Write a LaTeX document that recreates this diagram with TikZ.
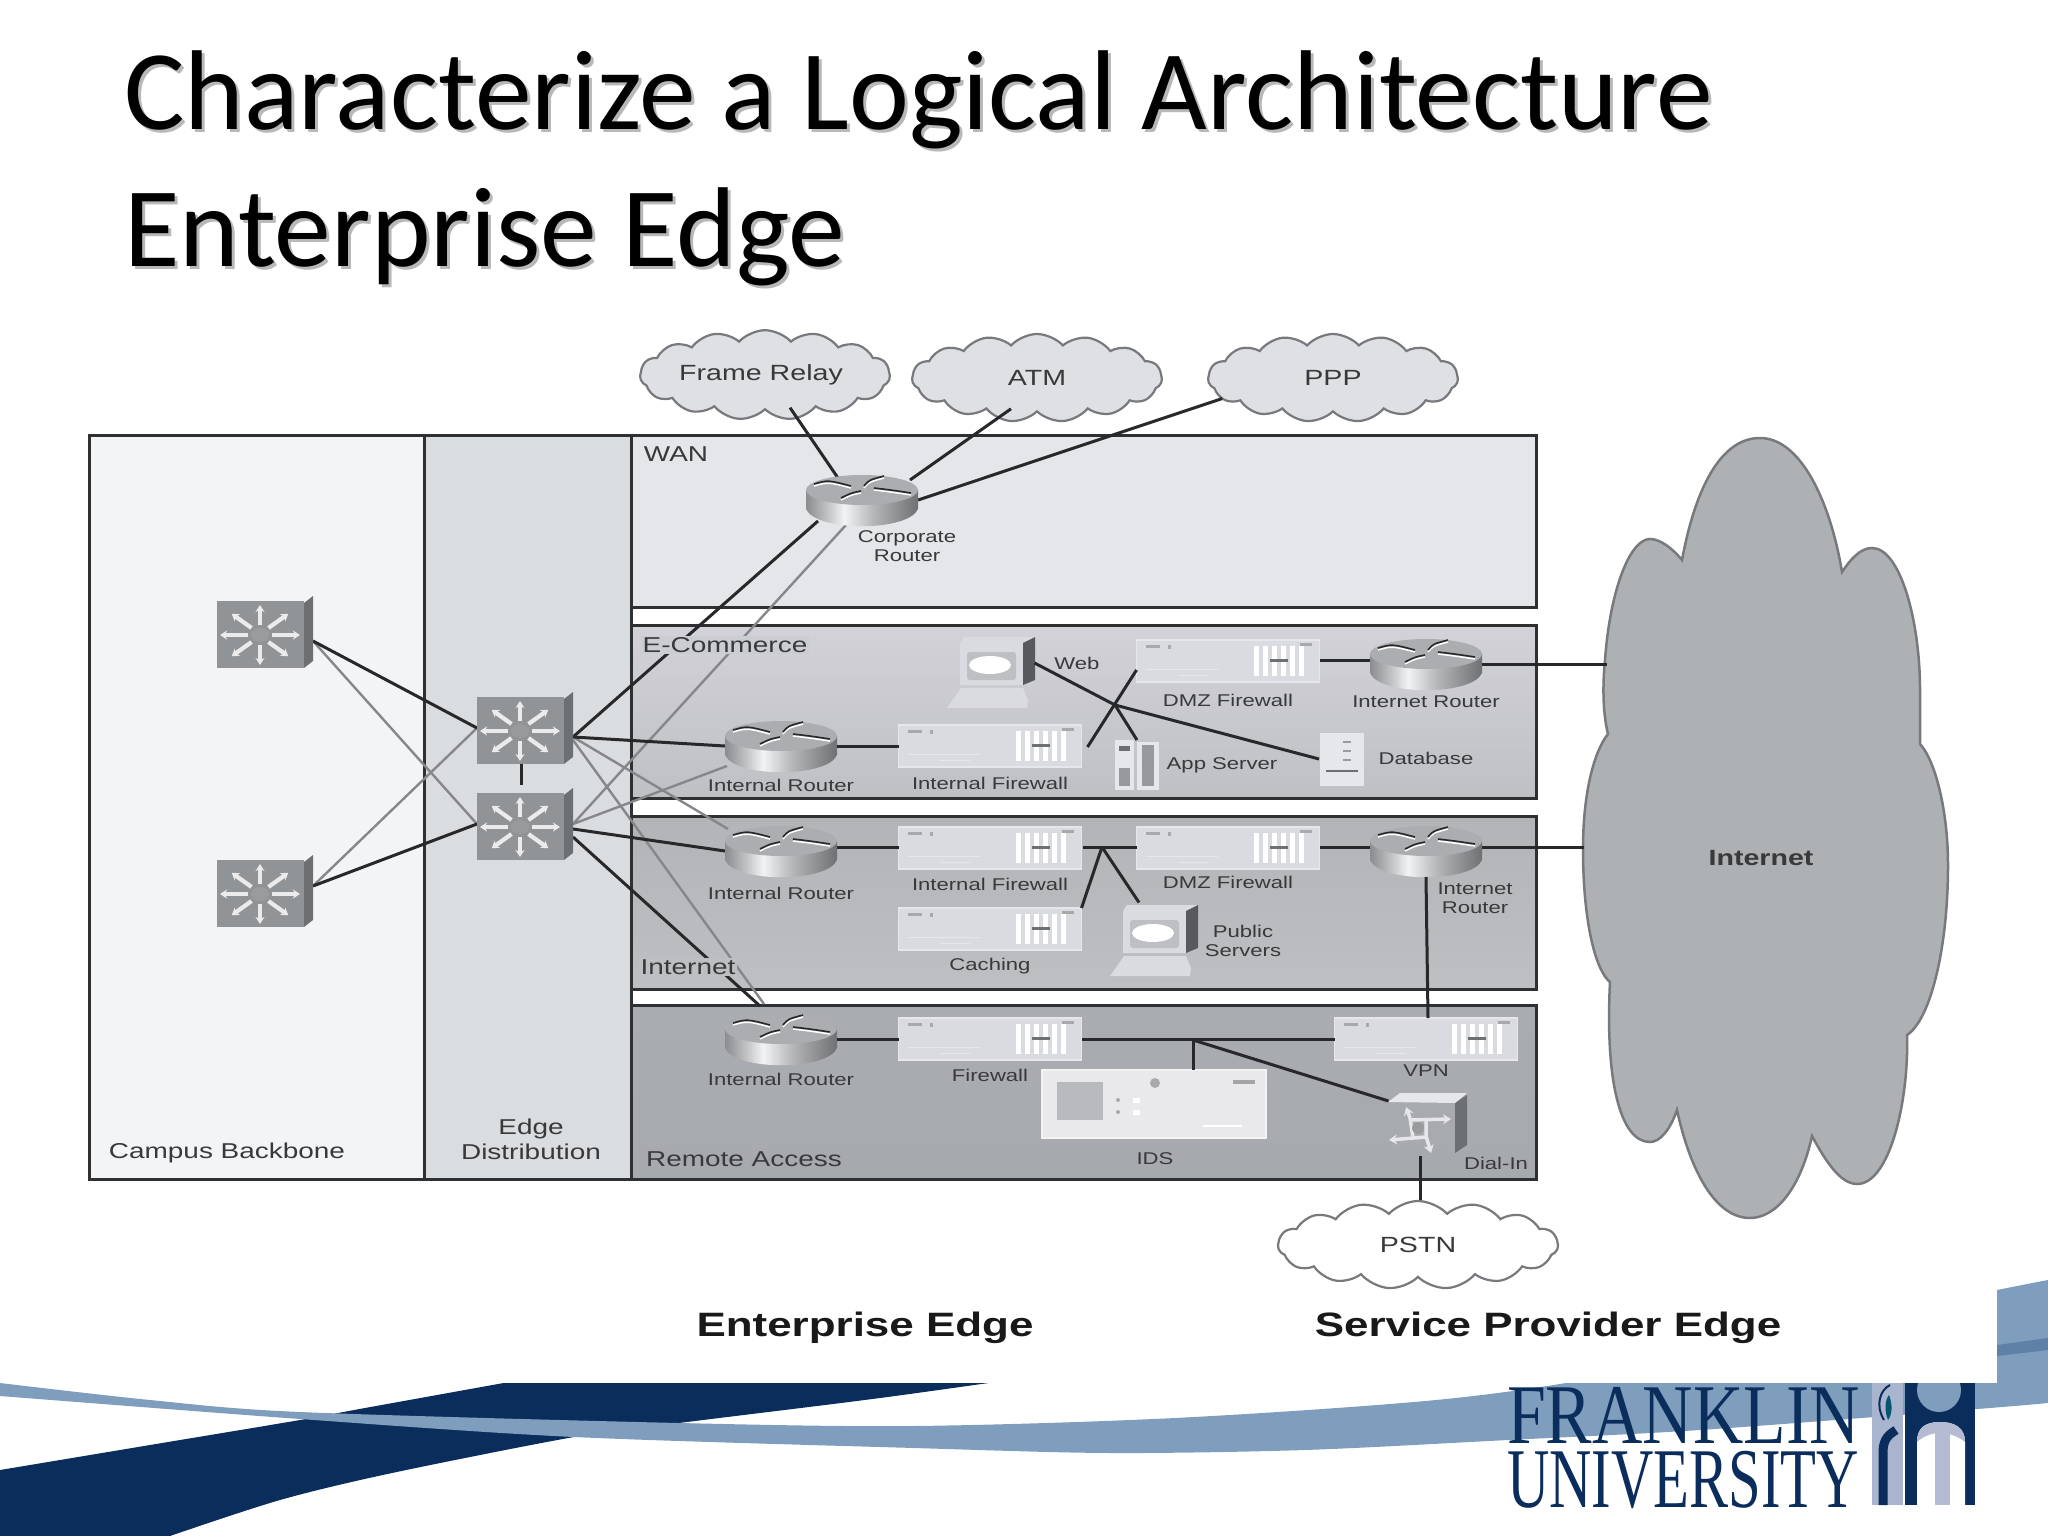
\documentclass[tikz,border=0pt]{standalone}
\usepackage{fontspec}
\usetikzlibrary{calc,shapes.symbols,arrows.meta}
\newfontfamily\lab[FakeStretch=1.3]{Liberation Sans}
\newfontfamily\ttl{Carlito}
\newfontfamily\logoa[FakeStretch=0.82]{Liberation Serif}
\newfontfamily\logob[FakeStretch=0.69]{Liberation Serif}
\definecolor{navy}{HTML}{0A2D5C}
\definecolor{band}{HTML}{7F9DBD}
\definecolor{bandd}{HTML}{5F81A8}
\definecolor{logol}{HTML}{A9B5CE}
\definecolor{logom}{HTML}{B5BBD2}
\definecolor{labc}{HTML}{37393B}
\definecolor{edge}{HTML}{2E3032}
\definecolor{darkl}{HTML}{26282A}
\definecolor{grayl}{HTML}{85878A}
\definecolor{campus}{HTML}{F3F4F5}
\definecolor{distc}{HTML}{D9DDE0}
\definecolor{wanc}{HTML}{E5E6E9}
\definecolor{ecomt}{HTML}{D2D2D8}
\definecolor{ecomb}{HTML}{BFC0C4}
\definecolor{inett}{HTML}{B2B4B7}
\definecolor{inetb}{HTML}{BDBFC2}
\definecolor{remt}{HTML}{A9ACB0}
\definecolor{remb}{HTML}{A6A9AD}
\definecolor{cldc}{HTML}{DFE0E3}
\definecolor{cldl}{HTML}{77797C}
\definecolor{fwc}{HTML}{DADBE0}
\definecolor{fwl}{HTML}{E6E7EA}
\definecolor{swf}{HTML}{919497}
\definecolor{sws}{HTML}{6D7073}
\definecolor{inetc}{HTML}{AEB1B4}
\definecolor{rt1}{HTML}{8A8C8F}
\definecolor{rt2}{HTML}{C4C6C8}
\definecolor{rt3}{HTML}{F2F3F4}
\definecolor{rt4}{HTML}{B4B6B8}
\definecolor{rt5}{HTML}{6E7073}
\definecolor{rttop}{HTML}{ABADB0}
\pgfdeclarehorizontalshading{rtbody}{100bp}{color(0bp)=(rt1); color(25bp)=(rt1); color(35bp)=(rt2); color(42bp)=(rt3); color(55bp)=(rt4); color(75bp)=(rt5); color(100bp)=(rt5)}
\tikzset{
  dev/.style={rectangle,inner sep=0pt,outer sep=0pt},
  lbl/.style={font=\lab\fontsize{17}{19.5}\selectfont,text=labc,inner sep=0pt,align=center},
  lblb/.style={font=\lab\fontsize{21.5}{25}\selectfont,text=labc,inner sep=1.5pt,align=center},
  edgetxt/.style={font=\lab\bfseries\fontsize{33.8}{38}\selectfont,text=black!90,inner sep=0pt},
  smallcloud/.style={cloud,cloud puffs=15,cloud puff arc=95,aspect=3.1,draw=cldl,line width=2.2pt,fill=cldc,
     minimum width=#1,minimum height=88pt,inner sep=0pt,font=\lab\fontsize{22}{26}\selectfont,text=labc},
  panel/.style={draw=edge,line width=3pt},
  linkd/.style={draw=darkl,line width=3pt},
  linkg/.style={draw=grayl,line width=2.4pt},
  titletxt/.style={font=\ttl\fontsize{113.5}{137}\selectfont,inner sep=0pt,anchor=base west},
}
\newcommand{\swdev}[3]{%
  \node[dev,minimum width=96pt,minimum height=72pt] (#1) at (#2,#3) {};
  \begin{scope}[shift={(#2,#3)}]
    \fill[sws] (39,-29) -- (48,-36) -- (48,29) -- (39,36) -- cycle;
    \fill[swf] (-48,-31) rectangle (39,36);
    \foreach \a in {0,45,...,315}{
      \draw[white!92!black,line width=4.2pt,-{Stealth[length=7pt,width=9pt]}]
        ({-5+12*cos(\a)},{3+10*sin(\a)}) -- ({-5+40*cos(\a)},{3+30*sin(\a)});
    }
    \fill[sws!70!white] (-5,3) ellipse [x radius=9pt,y radius=7pt];
  \end{scope}}
\newcommand{\rtdev}[3]{%
  \node[dev,minimum width=112pt,minimum height=52pt] (#1) at (#2,#3) {};
  \begin{scope}[shift={(#2,#3)}]
    \shade[shading=rtbody] (-56,-10) -- (-56,9) .. controls (-46,32) and (46,32) .. (56,9) -- (56,-10) -- cycle;
    \fill[rttop] (0,-10) ellipse [x radius=56pt,y radius=15pt];
    \draw[white,line width=1.5pt] (-48,-14) .. controls (-34,-18) .. (-11,-12) (2,-12) .. controls (7,-18) .. (22,-22)
       (12,-10) .. controls (29,-8) .. (49,-5) (-21,0) .. controls (-11,-5) .. (-1,-7);
    \draw[darkl,line width=1.6pt] (-48,-16) .. controls (-34,-20) .. (-11,-14) (2,-14) .. controls (7,-20) .. (22,-24)
       (12,-12) .. controls (29,-10) .. (49,-7) (-21,-2) .. controls (-11,-7) .. (-1,-9);
  \end{scope}}
\newcommand{\fwdev}[3]{%
  \node[dev,minimum width=183pt,minimum height=42pt] (#1) at (#2,#3) {};
  \begin{scope}[shift={(#2,#3)}]
    \draw[fill=fwc,draw=fwl,line width=1.5pt] (-91.5,-21) rectangle (91.5,21);
    \fill[sws!60!white] (-82,-16) rectangle (-68,-13);
    \fill[sws!60!white] (-60,-16) rectangle (-57,-12);
    \draw[fwl,line width=1pt] (-82,8) -- (-10,8) (-50,14) -- (-20,14);
    \foreach \dx in {26,35,44,53,62,71}{\fill[white] (\dx,-15) rectangle +(5,30);}
    \fill[sws] (42,-2) rectangle (60,1);
    \fill[sws!60!white] (72,-18) rectangle (84,-15);
  \end{scope}}
\newcommand{\pcdev}[3]{%
  \node[dev,minimum width=87pt,minimum height=71pt] (#1) at (#2,#3) {};
  \begin{scope}[shift={(#2,#3)}]
    \fill[fwc] (-44,36) -- (-30,16) -- (32,16) -- (37,28) -- (36,36) -- cycle;
    \fill[fwc] (-31,-29) -- (-27,-35) -- (44,-35) -- (32,-29) -- (32,13) -- (-31,13) -- cycle;
    \fill[sws!80!black] (32,-29) -- (44,-35) -- (44,8) -- (32,13) -- cycle;
    \fill[rounded corners=3pt,fill=inetb] (-24,-20) rectangle (25,8);
    \fill[white] (-1,-7) ellipse [x radius=21pt,y radius=9pt];
  \end{scope}}
\begin{document}
\begin{tikzpicture}[x=1pt,y=-1pt]
\useasboundingbox (0,0) rectangle (2048,1536);
% --- slide background
\fill[navy] plot[smooth] coordinates {(548,1375) (365,1408) (300,1420) (150,1445) (0,1470)}
  -- (0,1536) -- (170,1536) -- plot[smooth] coordinates {(170,1536) (280,1500) (392,1473) (574,1437) (679,1423) (880,1398) (1066,1372)} -- cycle;
\fill[band] plot[smooth] coordinates {(0,1383) (150,1400) (300,1412) (679,1423) (914,1426) (1175,1418) (1436,1400) (1605,1376) (1800,1330) (1997,1290) (2048,1280)}
  -- plot[smooth] coordinates {(2048,1403) (1977,1409) (1700,1430) (1508,1440) (1305,1450) (1110,1453) (914,1448) (574,1437) (300,1419) (0,1396)} -- cycle;
\fill[bandd] (1997,1345) -- (2048,1338) -- (2048,1350) -- (1997,1356) -- cycle;
% --- logo emblem
\fill[logol] (1872,1375) rectangle (1903,1505);
\draw[navy,line width=9pt] (1883,1505) -- (1883,1452) .. controls (1883,1438) and (1890,1434) .. (1896,1430);
\draw[navy,line width=2pt] (1884,1420) .. controls (1875,1405) and (1880,1390) .. (1890,1385);
\fill[navy!50!teal] (1889,1395) .. controls (1893,1405) and (1892,1415) .. (1888,1420) .. controls (1884,1410) and (1885,1400) .. (1889,1395) -- cycle;
\fill[navy] (1905,1375) rectangle (1975,1505);
\fill[white] (1917,1505) -- (1917,1442) .. controls (1917,1428) and (1925,1422) .. (1940,1422) .. controls (1955,1422) and (1965,1428) .. (1965,1442) -- (1965,1505) -- cycle;
\fill[logom] (1917,1442) .. controls (1917,1428) and (1925,1422) .. (1940,1422) .. controls (1955,1422) and (1965,1428) .. (1965,1442) .. controls (1950,1430) and (1930,1430) .. (1917,1442) -- cycle;
\fill[logom] (1935,1430) rectangle (1950,1505);
\fill[band] (1939,1390) circle [radius=22pt];
\fill[white] (0,0) rectangle (1997,1383);
\node[inner sep=0pt,anchor=base west,text=navy,font=\logoa\fontsize{85}{90}\selectfont] (logoA) at (1507,1443) {FRANKLIN};
\node[inner sep=0pt,anchor=base west,text=navy,font=\logob\fontsize{85}{90}\selectfont] (logoB) at (1507,1507) {UNIVERSITY};
% --- title
\node[titletxt,text=black!28] (titleAs) at (127,133) {Characterize a Logical Architecture};
\node[titletxt,text=black!28] (titleBs) at (127,269) {Enterprise Edge};
\node[titletxt,text=black] (titleA) at (124,130) {Characterize a Logical Architecture};
\node[titletxt,text=black] (titleB) at (124,266) {Enterprise Edge};
% --- panels
\fill[campus] (89,435) rectangle (424,1179);
\fill[distc] (424,435) rectangle (631,1179);
\draw[panel] (89,435) rectangle (631,1179);
\draw[panel] (424,435) -- (424,1179);
\draw[panel,fill=wanc] (631,435) rectangle (1536,607);
\draw[panel,top color=ecomt,bottom color=ecomb] (631,625) rectangle (1536,798);
\draw[panel,top color=inett,bottom color=inetb] (631,816) rectangle (1536,989);
\draw[panel,top color=remt,bottom color=remb] (631,1005) rectangle (1536,1179);
% --- Internet cloud
\draw[fill=inetc,draw=cldl,line width=2.5pt] (1682,560) .. controls (1695,490) and (1720,438) .. (1760,438) .. controls (1800,438) and (1830,500) .. (1842,572)
  .. controls (1850,560) and (1860,548) .. (1872,548) .. controls (1900,548) and (1920,620) .. (1920,690) .. controls (1920,710) and (1920,730) .. (1920,744)
  .. controls (1935,760) and (1948,810) .. (1948,865) .. controls (1948,950) and (1930,1020) .. (1907,1035)
  .. controls (1909,1100) and (1890,1184) .. (1857,1184) .. controls (1840,1184) and (1825,1160) .. (1812,1136)
  .. controls (1800,1190) and (1775,1218) .. (1750,1218) .. controls (1715,1218) and (1690,1170) .. (1677,1110)
  .. controls (1670,1130) and (1660,1142) .. (1650,1142) .. controls (1620,1142) and (1605,1080) .. (1610,982)
  .. controls (1595,970) and (1583,920) .. (1583,849) .. controls (1583,790) and (1595,750) .. (1608,734)
  .. controls (1602,710) and (1603,680) .. (1605,660) .. controls (1610,590) and (1630,539) .. (1650,539) .. controls (1660,539) and (1672,548) .. (1682,560) -- cycle;
\node[font=\lab\bfseries\fontsize{22}{26}\selectfont,text=labc,inner sep=0pt] (internet) at (1761,858) {Internet};
\coordinate (inetA) at (1607,664);
\coordinate (inetB) at (1584,847);
% --- small clouds
\node[smallcloud=250pt] (fr) at (765,375) {\hspace{-8pt}Frame Relay};
\node[smallcloud=250pt] (atm) at (1037,378) {ATM};
\node[smallcloud=250pt] (ppp) at (1333,378) {PPP};
\node[smallcloud=280pt,fill=white] (pstn) at (1418,1245) {PSTN};
% --- device anchors (drawn later on top of the links)
\node[dev,minimum width=96pt,minimum height=72pt] (coreAp) at (265,632) {};
\node[dev,minimum width=96pt,minimum height=72pt] (coreBp) at (265,891) {};
\node[dev,minimum width=96pt,minimum height=72pt] (d1p) at (525,728) {};
\node[dev,minimum width=96pt,minimum height=72pt] (d2p) at (525,824) {};
\node[dev,minimum width=112pt,minimum height=52pt] (corpp) at (862,500) {};
\node[dev,minimum width=112pt,minimum height=52pt] (r1p) at (781,746) {};
\node[dev,minimum width=112pt,minimum height=52pt] (r2p) at (781,851) {};
\node[dev,minimum width=112pt,minimum height=52pt] (r3p) at (781,1039) {};
\node[dev,minimum width=112pt,minimum height=52pt] (i1p) at (1426,664) {};
\node[dev,minimum width=112pt,minimum height=52pt] (i2p) at (1426,849) {};
% --- backbone links
\draw[linkg] ($(coreAp.east)+(0,9)$) -- (d2p.west);
\draw[linkg] ($(coreBp.east)+(0,-5)$) -- (d1p.west);
\draw[linkd] ($(coreAp.east)+(0,9)$) -- (d1p.west);
\draw[linkd] ($(coreBp.east)+(0,-5)$) -- (d2p.west);
\draw[linkd] ($(d1p.south)+(-4,0)$) -- ($(d2p.north)+(-4,-3)$);
\draw[linkg] (d2p.east) -- ($(corpp.south west)+(40,-1)$);
\draw[linkd] ($(d1p.east)+(0,9)$) -- ($(corpp.south west)+(12,-5)$);
\draw[linkg] (d2p.east) -- ($(r1p.south west)+(2,-6)$);
\draw[linkg] ($(d1p.east)+(0,9)$) -- ($(r2p.north west)+(3,4)$);
\draw[linkg] ($(d1p.east)+(0,12)$) -- ($(r3p.north west)+(39,-9)$);
\draw[linkd] ($(d1p.east)+(0,9)$) -- (r1p.west);
\draw[linkd] ($(d2p.east)+(0,5)$) -- (r2p.west);
\draw[linkd] ($(d2p.east)+(0,13)$) -- ($(r3p.north west)+(35,-7)$);
% --- WAN links
\draw[linkd] ($(fr.south)+(25,-3)$) -- ($(corpp.north)+(-24,4)$);
\draw[linkd] ($(atm.south)+(-26,-4)$) -- ($(corpp.north east)+(-8,6)$);
\draw[linkd] ($(ppp.south west)+(-24,-10)$) -- (corpp.east);
% --- panel labels over the links
\node[lblb] (wanl) at (676,454) {WAN};
\node[lblb,fill=ecomt!70!ecomb] (ecoml) at (725,645) {E-Commerce};
\node[lblb,fill=inetb] (inetl) at (688,967) {Internet};
\node[lblb] (raccl) at (744,1159) {Remote Access};
\node[lblb] (campl) at (227,1153) {Campus Backbone};
\node[lblb] (edgel) at (531,1139) {Edge\\Distribution};
% --- devices
\swdev{coreA}{265}{632}
\swdev{coreB}{265}{891}
\swdev{d1}{525}{728}
\swdev{d2}{525}{824}
\rtdev{corp}{862}{500}
\rtdev{r1}{781}{746}
\rtdev{r2}{781}{851}
\rtdev{r3}{781}{1039}
\rtdev{i1}{1426}{664}
\rtdev{i2}{1426}{851}
\fwdev{fwdmzA}{1228}{661}
\fwdev{fwintA}{990}{746}
\fwdev{fwintB}{990}{848}
\fwdev{fwdmzB}{1228}{848}
\fwdev{fwcach}{990}{929}
\fwdev{fwrem}{990}{1039}
\fwdev{vpn}{1426}{1039}
\pcdev{web}{991}{672}
\pcdev{pub}{1154}{940}
% app server
\node[dev,minimum width=44pt,minimum height=50pt] (app) at (1137,765) {};
\fill[fwl] (1115,740) rectangle (1134,790);
\fill[sws] (1119,746) rectangle (1130,751);
\fill[fwc!70!black] (1119,768) rectangle (1130,786);
\fill[fwl] (1137,742) rectangle (1159,790);
\fill[fwc!70!black] (1142,745) rectangle (1154,786);
% database
\node[dev,minimum width=44pt,minimum height=53pt] (db) at (1342,760) {};
\fill[fwl] (1320,733) rectangle (1364,786);
\foreach \yy in {741,750,759}{\fill[sws!70!white] (1343,\yy) rectangle +(8,2);}
\fill[sws] (1326,770) rectangle (1358,772);
% IDS
\node[dev,minimum width=224pt,minimum height=68pt] (ids) at (1154,1104) {};
\draw[fill=fwc!60!white,draw=fwl!50!white,line width=2pt] (1042,1070) rectangle (1266,1138);
\fill[fwc!85!black] (1057,1082) rectangle (1103,1120);
\fill[sws!60!white] (1155,1083) circle [radius=5pt];
\fill[sws!60!white] (1118,1100) circle [radius=2pt] (1118,1112) circle [radius=2pt];
\fill[white] (1133,1098) rectangle (1140,1103) (1133,1110) rectangle (1140,1115);
\fill[fwc!75!black] (1233,1080) rectangle (1255,1084);
\fill[white] (1203,1125) rectangle (1242,1127);
% dial-in
\node[dev,minimum width=79pt,minimum height=60pt] (dial) at (1428,1124) {};
\fill[sws] (1455,1103) -- (1467,1095) -- (1467,1145) -- (1455,1153) -- cycle;
\fill[fwl] (1388,1102) -- (1400,1093) -- (1467,1093) -- (1455,1103) -- cycle;
\draw[fwl,line width=3.5pt,-{Stealth[length=8pt,width=10pt]}] (1410,1118) -- (1406,1107);
\draw[fwl,line width=3.5pt,-{Stealth[length=8pt,width=10pt]}] (1410,1120) -- (1451,1119);
\draw[fwl,line width=3.5pt,-{Stealth[length=8pt,width=10pt]}] (1426,1137) -- (1389,1140);
\draw[fwl,line width=3.5pt,-{Stealth[length=8pt,width=10pt]}] (1426,1136) -- (1431,1153);
\draw[fwl,line width=3.5pt] (1410,1118) -- (1413,1138) (1426,1120) -- (1426,1136);
\fill[sws!70!white] (1418,1128) circle [radius=6pt];
% --- device-level links
\coordinate (hubC) at (1115,705);
\coordinate (hubB) at (1102,847);
\coordinate (hubR) at (1193,1040);
\draw[linkd] (r1.east) -- (fwintA.west);
\draw[linkd] ($(fwdmzA.east)+(0,-1)$) -- ($(i1.west)+(0,-4)$);
\draw[linkd] (i1.east) -- (inetA);
\draw[linkd] ($(fwintA.east)+(6,1)$) -- ($(fwdmzA.west)+(0,9)$);
\draw[linkd] ($(web.east)+(0,-9)$) -- (hubC) -- ($(db.west)+(-1,-1)$);
\draw[linkd] (hubC) -- (app.north);
\draw[linkd] ($(r2.east)+(0,-4)$) -- ($(fwintB.west)+(0,-1)$);
\draw[linkd] ($(fwintB.east)+(1,-1)$) -- ($(fwdmzB.west)+(0,-1)$);
\draw[linkd] ($(fwdmzB.east)+(0,-1)$) -- ($(i2.west)+(0,-4)$);
\draw[linkd] ($(i2.east)+(0,-4)$) -- (inetB);
\draw[linkd] (hubB) -- (fwcach.north east);
\draw[linkd] (hubB) -- ($(pub.north)+(-15,-2)$);
\draw[linkd] (i2.south) -- ($(vpn.north)+(2,0)$);
\draw[linkd] (r3.east) -- (fwrem.west);
\draw[linkd] (fwrem.east) -- (vpn.west);
\draw[linkd] (hubR) -- (ids.north -| hubR);
\draw[linkd] (hubR) -- ($(dial.north west)+(0,7)$);
\draw[linkd] ($(dial.south)+(-8,2)$) -- ($(pstn.north)+(2,0)$);
% --- device labels
\node[lbl] (lcorp) at (907,546) {Corporate\\Router};
\node[lbl] (lweb) at (1077,663) {Web};
\node[lbl] (ldmzA) at (1228,700) {DMZ Firewall};
\node[lbl] (li1) at (1426,702) {Internet Router};
\node[lbl] (lr1) at (781,785) {Internal Router};
\node[lbl] (lfwA) at (990,783) {Internal Firewall};
\node[lbl] (lapp) at (1222,765) {App Server};
\node[lbl] (ldb) at (1426,758) {Database};
\node[lbl] (lr2) at (781,893) {Internal Router};
\node[lbl] (lfwB) at (990,884) {Internal Firewall};
\node[lbl] (ldmzB) at (1228,882) {DMZ Firewall};
\node[lbl] (li2) at (1475,898) {Internet\\Router};
\node[lbl] (lcach) at (990,966) {Caching};
\node[lbl] (lpub) at (1243,941) {Public\\Servers};
\node[lbl] (lr3) at (781,1079) {Internal Router};
\node[lbl] (lfwR) at (990,1075) {Firewall};
\node[lbl] (lvpn) at (1426,1071) {VPN};
\node[lbl] (lids) at (1155,1159) {IDS};
\node[lbl] (ldial) at (1496,1163) {Dial-In};
% --- edge captions
\node[edgetxt] (eedge) at (865,1328) {Enterprise Edge};
\node[edgetxt] (sedge) at (1548,1328) {Service Provider Edge};
\end{tikzpicture}
\end{document}
